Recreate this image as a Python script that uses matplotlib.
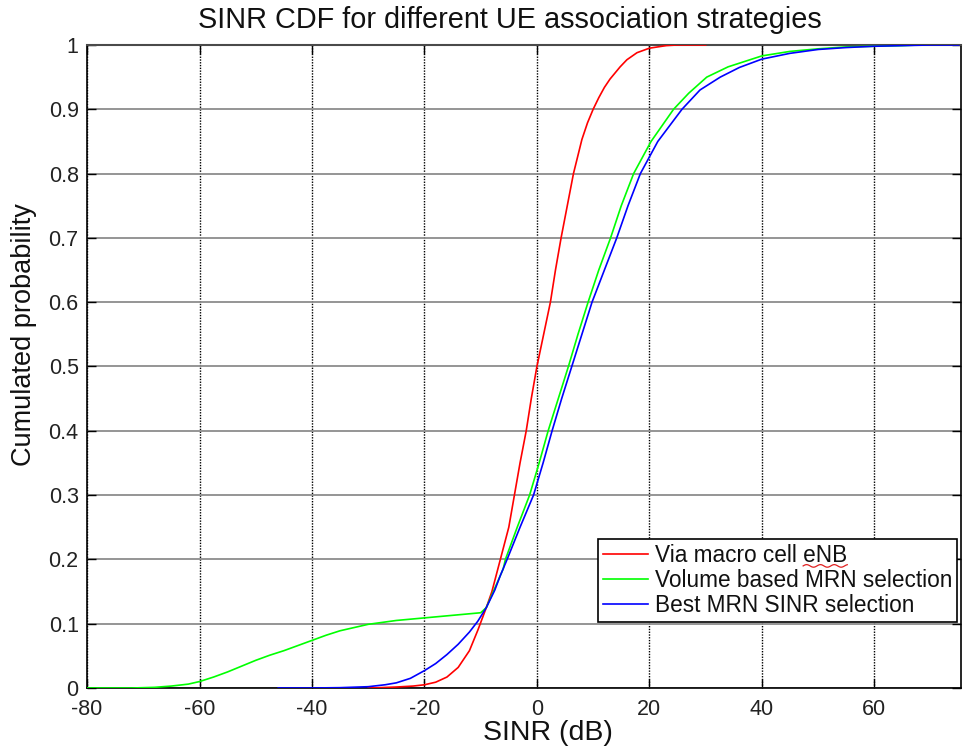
import matplotlib
matplotlib.use("Agg")
import matplotlib.pyplot as plt
import numpy as np

plt.rcParams["font.family"] = ["Liberation Sans", "DejaVu Sans"]
plt.rcParams["axes.unicode_minus"] = False

# SINR CDF points per association strategy (dB, cumulative probability)
macro_x = [-30, -28, -25, -22, -20, -18, -16, -14, -12, -10.5, -9, -8, -6.5,
           -5, -4, -3, -1.9, -1, 0, 1.2, 2.4, 3.3, 4.3, 5.4, 6.5, 8, 9, 10,
           11, 12, 13, 14.8, 16, 17.8, 20, 23, 25, 30]
macro_y = [0, 0.0005, 0.0015, 0.003, 0.005, 0.009, 0.017, 0.032, 0.058,
           0.09, 0.125, 0.15, 0.2, 0.25, 0.3, 0.35, 0.4, 0.45, 0.5, 0.55, 0.6,
           0.65, 0.7, 0.75, 0.8, 0.853, 0.879, 0.9, 0.918, 0.934, 0.947,
           0.966, 0.977, 0.988, 0.995, 0.999, 1.0, 1.0]

volume_x = [-80, -72, -68, -65, -62, -60, -57.5, -55, -52.5, -50, -47.5, -45,
            -42.5, -40, -37.5, -35, -32.5, -30, -27.5, -25, -20, -15, -10, -9,
            -7.5, -6, -5.6, -3.5, -1.3, 0.4, 2, 3.8, 5.6, 7.3, 9.1, 11, 13.1,
            15, 17.2, 20.3, 24.3, 27, 30.2, 34, 40, 45, 50, 55, 60, 65, 68]
volume_y = [0, 0, 0.001, 0.003, 0.006, 0.01, 0.017, 0.025, 0.034, 0.043,
            0.051, 0.058, 0.066, 0.074, 0.082, 0.089, 0.094, 0.099, 0.102,
            0.105, 0.109, 0.113, 0.117, 0.125, 0.155, 0.185, 0.2, 0.25, 0.3,
            0.35, 0.4, 0.45, 0.5, 0.55, 0.6, 0.65, 0.7, 0.75, 0.8, 0.85, 0.9,
            0.925, 0.95, 0.966, 0.983, 0.99, 0.994, 0.997, 0.998, 0.999, 1.0]

best_x = [-46, -40, -35, -30, -27, -25, -22.5, -20, -18, -16, -14, -12, -10.5,
          -9, -7.5, -6.5, -5.3, -3, -0.6, 1.1, 2.7, 4.4, 6.2, 8, 9.8, 12,
          14.2, 16.2, 18.4, 21.5, 25.8, 29, 32.6, 36, 40, 45, 50, 55, 60, 65,
          70, 75]
best_y = [0, 0, 0.0005, 0.002, 0.005, 0.008, 0.015, 0.027, 0.038, 0.052,
          0.068, 0.087, 0.104, 0.125, 0.152, 0.175, 0.2, 0.25, 0.3, 0.35, 0.4,
          0.45, 0.5, 0.55, 0.6, 0.65, 0.7, 0.75, 0.8, 0.85, 0.9, 0.93, 0.95,
          0.965, 0.978, 0.987, 0.993, 0.996, 0.998, 0.999, 1.0, 1.0]

labels = ["Via macro cell eNB", "Volume based MRN selection",
          "Best MRN SINR selection"]
colors = ["#ff0000", "#00ff00", "#0000ff"]

x_ticks = [-80, -60, -40, -20, 0, 20, 40, 60]
y_ticks = [0, 0.1, 0.2, 0.3, 0.4, 0.5, 0.6, 0.7, 0.8, 0.9, 1]
y_ticklabels = ["0", "0.1", "0.2", "0.3", "0.4", "0.5", "0.6", "0.7", "0.8",
                "0.9", "1"]

fig = plt.figure(figsize=(9.67, 7.47), dpi=100)
ax = fig.add_axes([0.090, 0.079, 0.9043, 0.8608])

for xs, ys, c, lbl in zip([macro_x, volume_x, best_x],
                          [macro_y, volume_y, best_y], colors, labels):
    ax.plot(xs, ys, color=c, lw=1.2, label=lbl, zorder=3)

ax.set_xlim(-80, 75.5)
ax.set_ylim(0, 1)
ax.set_xticks(x_ticks)
ax.set_yticks(y_ticks)
ax.set_yticklabels(y_ticklabels)

# MATLAB-ish grid: dotted verticals, solid grey horizontals
ax.xaxis.grid(True, linestyle=(0, (1, 1)), color="black", lw=1.0)
ax.yaxis.grid(True, linestyle="-", color="#8c8c8c", lw=1.3)
ax.set_axisbelow(True)

ax.tick_params(direction="in", length=6.5, width=1, top=True, right=True,
               labelsize=15.5, colors="black", labelcolor="#222222")
ax.tick_params(axis="x", pad=8)
ax.tick_params(axis="y", pad=6)
for side in ["left", "bottom", "right"]:
    ax.spines[side].set_color("black")
    ax.spines[side].set_linewidth(1.2)
ax.spines["top"].set_color("#4a4a4a")
ax.spines["top"].set_linewidth(1.5)

ax.set_xlabel("SINR (dB)", fontsize=20.5, color="#111111")
ax.xaxis.set_label_coords(0.527, -0.050)
ax.set_ylabel("Cumulated probability", fontsize=19.5, color="#111111")
ax.yaxis.set_label_coords(-0.057, 0.549)
fig.text(510 / 967, 1 - 20 / 747, "SINR CDF for different UE association strategies",
         fontsize=20.8, ha="center", va="center", color="#111111")

leg = ax.legend(loc="lower left", bbox_to_anchor=(0.5843, 0.1026),
                fontsize=16.3, frameon=True, fancybox=False, framealpha=1,
                edgecolor="black", borderpad=0.22, labelspacing=0.08,
                handlelength=2.0, handletextpad=0.3, borderaxespad=0)
leg.get_frame().set_linewidth(1.2)
for t in leg.get_texts():
    t.set_color("#111111")

# red wavy spell-check underline under "eNB"
fig.canvas.draw()
renderer = fig.canvas.get_renderer()
txt = leg.get_texts()[0]
bb = txt.get_window_extent(renderer)
w_enb, _, _ = renderer.get_text_width_height_descent(
    "eNB", txt.get_fontproperties(), ismath=False)
sx = np.linspace(bb.x1 - w_enb, bb.x1, 40)
sy = bb.y0 + 1.5 + 1.3 * np.sin((sx - sx[0]) / 2.2)
inv = fig.transFigure.inverted()
pts = inv.transform(np.column_stack([sx, sy]))
fig.add_artist(plt.Line2D(pts[:, 0], pts[:, 1], color="#e02020", lw=0.9))

fig.savefig("out.png", dpi=100)
